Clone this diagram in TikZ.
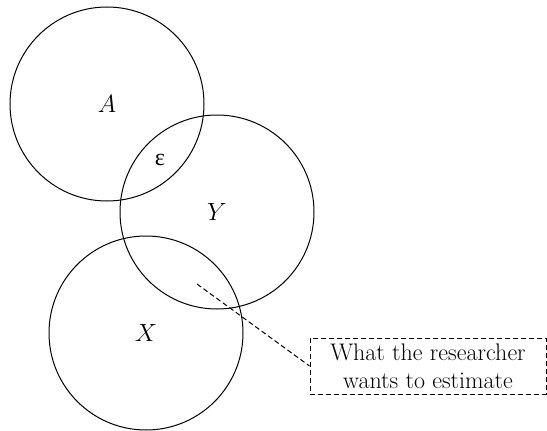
\documentclass[tikz,border=0pt]{standalone}
\usepackage{fontspec}
\newfontfamily\greekfont{Liberation Serif}
\usetikzlibrary{positioning}

\begin{document}
\begin{tikzpicture}[
    x=1pt, y=-1pt,
    every node/.style={font=\fontsize{24}{28}\selectfont},
    set/.style={draw, circle, minimum size=194pt, inner sep=0pt, line width=1pt},
    note/.style={draw, dash pattern=on 5pt off 3pt, line width=1pt, align=center, minimum width=236pt, minimum height=56pt, inner sep=2pt}
]
    \useasboundingbox (0,0) rectangle (547,431);

    \node[set] (a) at (107,104) {$A$};
    \node[set] (y) at (217,212) {$Y$};
    \node[set] (x) at (146,333) {$X$};
    \node (eps) at (160,160) {\greekfont ε};

    \node[note] (goal) at (428,366) {What the researcher\\wants to estimate};

    \coordinate (tip) at (197,284);
    \draw[dash pattern=on 5pt off 3pt, line width=1pt] (tip) -- (goal.west);
\end{tikzpicture}
\end{document}
